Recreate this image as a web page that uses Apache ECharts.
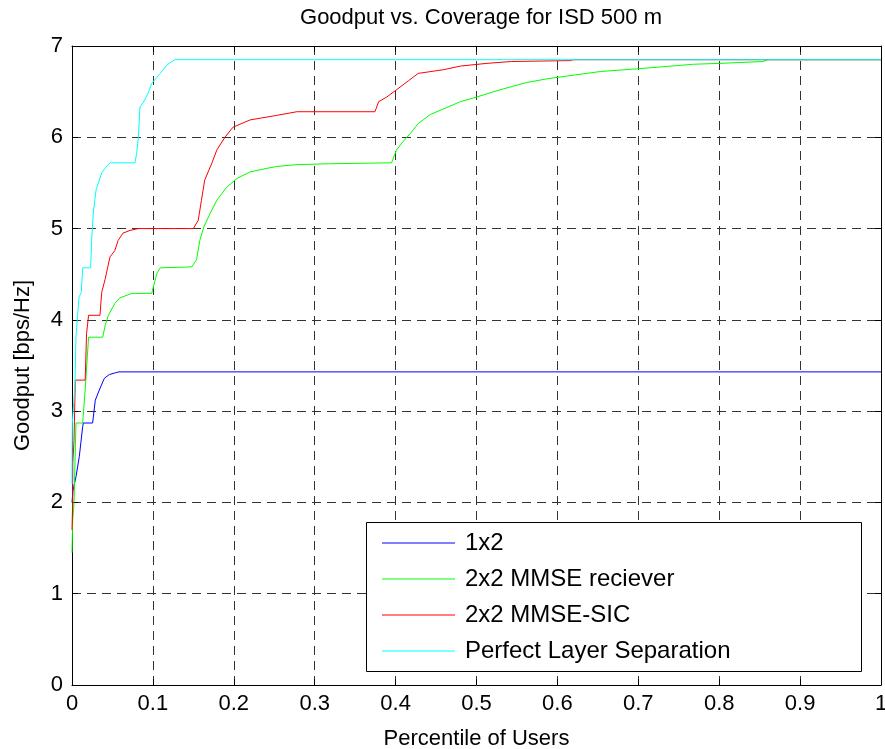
<!DOCTYPE html>
<html>
<head>
<meta charset="utf-8">
<script src="https://cdn.jsdelivr.net/npm/echarts@6/dist/echarts.min.js"></script>
<style>
  html, body { margin: 0; padding: 0; background: #fff; }
  #goodput_chart { width: 885px; height: 749px; }
</style>
</head>
<body>
<div id="goodput_chart"></div>
<script>
// curve points: [percentile, goodput]
var names = ['1x2', '2x2 MMSE reciever', '2x2 MMSE-SIC', 'Perfect Layer Separation'];
var colors = ['#0000ff', '#00ff00', '#ff0000', '#00ffff'];

var pts1x2 = [[0,2.0],[0.0012,2.13],[0.0049,2.28],[0.009,2.50],[0.0132,2.83],[0.014,2.87],[0.0255,2.87],
    [0.0288,3.12],[0.0337,3.23],[0.040,3.36],[0.046,3.40],[0.0535,3.42],[0.058,3.43],[1,3.43]];

var ptsMmse = [[0,1.45],[0.0008,1.8],[0.0025,2.0],[0.0049,2.87],[0.0132,2.87],[0.016,3.2],[0.0205,3.81],
    [0.038,3.81],[0.041,3.94],[0.045,4.05],[0.053,4.18],[0.059,4.24],[0.068,4.27],[0.074,4.29],[0.0985,4.29],
    [0.105,4.51],[0.109,4.57],[0.148,4.58],[0.154,4.66],[0.158,4.87],[0.163,5.02],[0.171,5.17],[0.179,5.31],
    [0.191,5.45],[0.204,5.55],[0.220,5.62],[0.241,5.66],[0.253,5.68],[0.278,5.70],[0.317,5.71],[0.395,5.72],
    [0.401,5.86],[0.409,5.95],[0.418,6.04],[0.428,6.15],[0.443,6.25],[0.459,6.31],[0.480,6.39],[0.500,6.44],
    [0.529,6.52],[0.562,6.60],[0.587,6.64],[0.611,6.67],[0.653,6.72],[0.698,6.75],[0.727,6.77],[0.768,6.80],
    [0.801,6.81],[0.854,6.83],[0.86,6.85],[1,6.85]];

var ptsSic = [[0,1.70],[0.0008,2.0],[0.001,2.43],[0.0025,2.68],[0.0041,3.34],[0.0163,3.34],[0.018,3.85],
    [0.0205,4.05],[0.0346,4.05],[0.0367,4.3],[0.0408,4.44],[0.047,4.69],[0.053,4.76],[0.057,4.87],[0.063,4.95],
    [0.0717,4.98],[0.082,5.0],[0.150,5.0],[0.156,5.09],[0.160,5.31],[0.164,5.53],[0.173,5.72],[0.179,5.86],
    [0.189,6.0],[0.199,6.11],[0.220,6.19],[0.253,6.24],[0.278,6.28],[0.3745,6.28],[0.379,6.39],[0.389,6.44],
    [0.401,6.52],[0.416,6.62],[0.428,6.70],[0.459,6.74],[0.480,6.78],[0.513,6.81],[0.543,6.83],[0.616,6.84],
    [0.62,6.85],[1,6.85]];

var ptsPerfect = [[0,2.2],[0.0004,2.87],[0.0037,3.3],[0.0049,3.81],[0.0058,3.92],[0.0087,4.25],[0.0115,4.3],
    [0.0132,4.57],[0.023,4.57],[0.0243,4.87],[0.0263,5.17],[0.0297,5.42],[0.0367,5.61],[0.0408,5.66],
    [0.047,5.72],[0.0779,5.72],[0.08,5.83],[0.082,6.0],[0.084,6.33],[0.088,6.38],[0.094,6.48],[0.0985,6.59],
    [0.109,6.70],[0.117,6.79],[0.127,6.85],[1,6.85]];

var xTickLabels = ['0','0.1','0.2','0.3','0.4','0.5','0.6','0.7','0.8','0.9','1'];
var yTickLabels = ['0','1','2','3','4','5','6','7'];

var allPts = [pts1x2, ptsMmse, ptsSic, ptsPerfect];
var FONT = 'Liberation Sans, Arial, sans-serif';

var myChart = echarts.init(document.getElementById('goodput_chart'));

var gridLine = { show: true, lineStyle: { color: '#333', type: [9, 6], width: 1 } };
var boxLine = { show: true, onZero: false, lineStyle: { color: '#000', width: 1 } };
var inTick = { show: true, inside: true, length: 6, lineStyle: { color: '#000' } };

var series = allPts.map(function (p, i) {
    return {
        name: names[i],
        type: 'line',
        data: p,
        showSymbol: false,
        symbol: 'none',
        color: colors[i],
        lineStyle: { width: 1, color: colors[i] },
        z: 2 + i,
        animation: false
    };
});

var option = {
    animation: false,
    backgroundColor: '#fff',
    title: {
        text: 'Goodput vs. Coverage for ISD 500 m',
        left: 476,
        textAlign: 'center',
        top: 2,
        textStyle: { fontFamily: FONT, fontSize: 22, fontWeight: 'normal', color: '#000' }
    },
    grid: { left: 72, right: 4, top: 46, bottom: 64, outerBoundsMode: 'none', containLabel: false },
    xAxis: [{
        type: 'value', min: 0, max: 1, interval: 0.1,
        name: 'Percentile of Users', nameLocation: 'middle', nameGap: 43,
        nameTextStyle: { fontFamily: FONT, fontSize: 22, color: '#000' },
        axisLine: boxLine, axisTick: inTick,
        axisLabel: {
            fontFamily: FONT, fontSize: 22, color: '#000', margin: 8,
            formatter: function (v) { return xTickLabels[Math.round(v * 10)]; }
        },
        splitLine: gridLine
    }, {
        type: 'value', min: 0, max: 1, interval: 0.1, position: 'top',
        axisLine: boxLine, axisTick: inTick, axisLabel: { show: false }, splitLine: { show: false }
    }],
    yAxis: [{
        type: 'value', min: 0, max: 7, interval: 1,
        name: 'Goodput [bps/Hz]', nameLocation: 'middle', nameGap: 38,
        nameTextStyle: { fontFamily: FONT, fontSize: 22, color: '#000' },
        axisLine: boxLine, axisTick: inTick,
        axisLabel: {
            fontFamily: FONT, fontSize: 22, color: '#000', margin: 9,
            formatter: function (v) { return yTickLabels[Math.round(v)]; }
        },
        splitLine: gridLine
    }, {
        type: 'value', min: 0, max: 7, interval: 1, position: 'right',
        axisLine: boxLine, axisTick: inTick, axisLabel: { show: false }, splitLine: { show: false }
    }],
    legend: {
        orient: 'vertical',
        left: 382,
        top: 531,
        padding: 0,
        data: names,
        icon: 'rect',
        itemWidth: 73,
        itemHeight: 1,
        itemGap: 12,
        z: 10,
        textStyle: { fontFamily: FONT, fontSize: 24, lineHeight: 23, color: '#000', padding: [0, 0, 0, 5] }
    },
    graphic: [{
        type: 'rect',
        z: 9,
        shape: { x: 366.5, y: 522.5, width: 495, height: 149 },
        style: { fill: '#fff', stroke: '#000', lineWidth: 1 }
    }],
    series: series
};

myChart.setOption(option);
</script>
</body>
</html>
